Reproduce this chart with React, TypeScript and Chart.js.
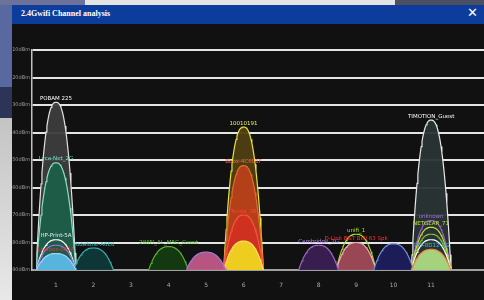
import React, { useEffect, useRef } from "react";
import { Chart, registerables } from "chart.js";

Chart.register(...registerables);

// ---- data ----
const channelTicks = [1, 2, 3, 4, 5, 6, 7, 8, 9, 10, 11];
const dbmTicks = [-10, -20, -30, -40, -50, -60, -70, -80, -90];

const ssids = [
  "POBAM 225", "Lyca-Net_2G", "HP-Print-5A", "", "Livebox-5F2A",
  "Vodafone-A6E0",
  "2WIFI_AL_M5G_Guest",
  "",
  "10010191", "Bbox-4C6E1F", "Tenda_3B", "",
  "Cambridge_2G",
  "unifi_1", "D-Link B&T Bell 63 Spk",
  "",
  "TIMOTION_Guest", "unknown", "NETGEAR_71", "", "", "SKY-8D12-2G",
];
const channels = [
  1, 1, 1, 1, 1,
  2,
  4,
  5,
  6, 6, 6, 6,
  8,
  9, 9,
  10,
  11, 11, 11, 11, 11, 11,
];
const signals = [
  -29, -51, -79, -81, -84,
  -82,
  -81.5,
  -83.5,
  -38, -52, -70, -79.5,
  -81,
  -77, -80,
  -80.5,
  -35.5, -72, -74.5, -77, -79, -82.5,
];

// ---- palette (style) ----
const fillColors = [
  "rgba(60,60,60,0.95)", "rgba(29,94,72,0.95)", "rgba(0,0,0,0)", "rgba(0,0,0,0)", "rgba(90,184,232,0.95)",
  "rgba(14,56,56,0.95)",
  "rgba(20,58,16,0.95)",
  "rgba(192,88,136,0.95)",
  "rgba(78,62,18,0.95)", "rgba(184,64,26,0.95)", "rgba(208,48,32,0.95)", "rgba(240,210,32,0.97)",
  "rgba(58,31,82,0.95)",
  "rgba(0,0,0,0)", "rgba(160,74,88,0.95)",
  "rgba(28,28,92,0.95)",
  "rgba(42,52,52,0.95)", "rgba(0,0,0,0)", "rgba(0,0,0,0)", "rgba(0,0,0,0)", "rgba(0,0,0,0)", "rgba(168,216,128,0.97)",
];
const borderColors = [
  "#e0e0e0", "#86e0c8", "#ffffff", "#9a6ae0", "#9ad8f8",
  "#38b0b0",
  "#58b038",
  "#a078d8",
  "#e8e040", "#e86a30", "#ff5040", "#ffe060",
  "#9a68c8",
  "#a8d828", "#f0b0b0",
  "#7090e0",
  "#e8e8e8", "#9060d0", "#c8d840", "#80c030", "#ffffff", "#f08040",
];
const labelColors = [
  "#ffffff", "#7fe0d0", "#e8e8ff", "#b080e0", "#ff2a2a",
  "#40c0c0",
  "#60c040",
  "#f0a040",
  "#f0f060", "#ff6040", "#ff4030", "#ffe060",
  "#b080e0",
  "#a8e030", "#ff3030",
  "#ffffff",
  "#ffffff", "#a070e0", "#c0e040", "#80c030", "#ffffff", "#30c0e0",
];

const FLOOR = -90;
const HALF_WIDTH = 0.53;

function arcPoints(ch: number, sig: number) {
  const pts: { x: number; y: number }[] = [];
  const N = 48;
  for (let i = 0; i <= N; i++) {
    const u = -1 + (2 * i) / N;
    pts.push({
      x: ch + HALF_WIDTH * u,
      y: FLOOR + (sig - FLOOR) * (1 - Math.pow(Math.abs(u), 2.5)),
    });
  }
  return pts;
}

const peakLabels = {
  id: "peakLabels",
  afterDatasetsDraw(chart: any) {
    const { ctx, scales } = chart;
    const x = scales.x;
    const y = scales.y;
    ctx.save();
    ctx.font = '5.5px "DejaVu Sans", sans-serif';
    ctx.textAlign = "center";
    ctx.textBaseline = "bottom";
    ssids.forEach((s, i) => {
      if (!s) return;
      ctx.fillStyle = labelColors[i];
      ctx.fillText(s, x.getPixelForValue(channels[i]), y.getPixelForValue(signals[i]) - 1);
    });
    ctx.restore();
  },
};

function ChannelChart() {
  const ref = useRef<HTMLCanvasElement | null>(null);
  useEffect(() => {
    if (!ref.current) return;
    const datasets = ssids.map((s, i) => ({
      label: s || "net" + i,
      data: arcPoints(channels[i], signals[i]),
      borderColor: borderColors[i],
      backgroundColor: fillColors[i],
      borderWidth: 1.2,
      pointRadius: 0,
      fill: "start",
      tension: 0,
      order: signals[i],
    }));
    const chart = new Chart(ref.current, {
      type: "line",
      data: { datasets },
      options: {
        animation: false,
        responsive: false,
        maintainAspectRatio: false,
        parsing: false,
        layout: { padding: { top: 26, left: 0, right: 0, bottom: 0 } },
        plugins: { legend: { display: false }, tooltip: { enabled: false } },
        scales: {
          x: {
            type: "linear",
            min: 0.36,
            max: 12.41,
            afterBuildTicks: (s: any) => {
              s.ticks = channelTicks.map((v) => ({ value: v }));
            },
            afterFit: (s: any) => {
              s.height = 30;
            },
            ticks: {
              color: "#a8a8a8",
              font: { size: 6, family: "DejaVu Sans" },
              padding: 12,
              autoSkip: false,
              maxRotation: 0,
            },
            grid: { display: false, drawTicks: false },
            border: { display: true, color: "#a0a0a0", width: 2 },
          },
          y: {
            type: "linear",
            min: -90,
            max: -10,
            afterBuildTicks: (s: any) => {
              s.ticks = dbmTicks.map((v) => ({ value: v }));
            },
            afterFit: (s: any) => {
              s.width = 20;
            },
            ticks: {
              color: "#9a9a9a",
              font: { size: 5, family: "DejaVu Sans" },
              padding: 2,
              callback: (v: any) => v + "dBm",
            },
            grid: { color: "#e4e4e4", lineWidth: 2, drawTicks: false },
            border: { display: true, color: "#c0c0c0", width: 1.5 },
          },
        },
      },
      plugins: [peakLabels],
    } as any);
    return () => chart.destroy();
  }, []);
  return (
    <canvas
      ref={ref}
      width={472}
      height={276}
      style={{ position: "absolute", left: 12, top: 24, width: 472, height: 276, background: "#111111" }}
    />
  );
}

export default function App() {
  return (
    <div
      style={{
        position: "fixed",
        left: 0,
        top: 0,
        width: 484,
        height: 300,
        overflow: "hidden",
        background: "#d6d6d6",
      }}
    >
      <div style={{ position: "absolute", left: 0, top: 0, width: 85, height: 5, background: "#6c7299" }} />
      <div style={{ position: "absolute", left: 85, top: 0, width: 310, height: 5, background: "#e4e4e4" }} />
      <div style={{ position: "absolute", left: 395, top: 0, width: 89, height: 5, background: "#4a4f62" }} />
      <div style={{ position: "absolute", left: 0, top: 5, width: 12, height: 82, background: "#5a68a0" }} />
      <div style={{ position: "absolute", left: 0, top: 87, width: 12, height: 31, background: "#2c3458" }} />
      <div style={{ position: "absolute", left: 0, top: 118, width: 12, height: 182, background: "linear-gradient(#c4c4c4, #e8e8e8)" }} />
      <div
        style={{
          position: "absolute",
          left: 12,
          top: 5,
          width: 472,
          height: 19,
          background: "#0d3d9c",
        }}
      >
        <span
          style={{
            position: "absolute",
            left: 9,
            top: 4,
            color: "#ffffff",
            fontFamily: '"Liberation Serif", "DejaVu Serif", serif',
            fontWeight: "bold",
            fontSize: 8,
            whiteSpace: "nowrap",
          }}
        >
          2.4Gwifi Channel analysis
        </span>
        <span
          style={{
            position: "absolute",
            left: 455,
            top: 0,
            color: "#ffffff",
            fontFamily: '"DejaVu Sans", sans-serif',
            fontSize: 13,
            lineHeight: "15px",
          }}
        >
          ✕
        </span>
      </div>
      <ChannelChart />
    </div>
  );
}
